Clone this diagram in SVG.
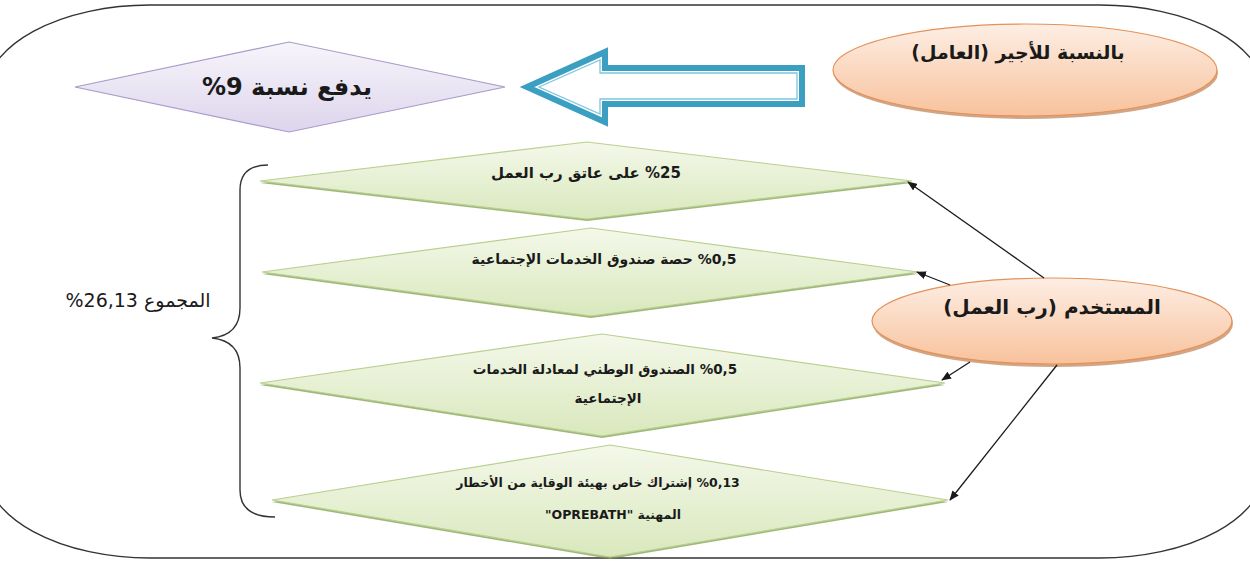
<svg xmlns="http://www.w3.org/2000/svg" width="1250" height="563" viewBox="0 0 1250 563">
<style>
.ar{font-family:"DejaVu Sans","Noto Sans",sans-serif;fill:#1a1a1a;direction:rtl;unicode-bidi:embed}
.bold{font-weight:bold}
.gd{fill:url(#gGreen);stroke:#b9d08f;stroke-width:1.2}
.gs{fill:#7f9f4e;opacity:0.75}
.con{stroke:#1a1a1a;stroke-width:1.3;fill:none;marker-end:url(#ah)}
</style>
<defs>
<linearGradient id="gGreen" x1="0" y1="0" x2="0" y2="1">
<stop offset="0" stop-color="#f4f8ea"/><stop offset="1" stop-color="#d9e8bd"/>
</linearGradient>
<linearGradient id="gPurple" x1="0" y1="0" x2="0" y2="1">
<stop offset="0" stop-color="#f7f5fb"/><stop offset="1" stop-color="#ddd5ec"/>
</linearGradient>
<linearGradient id="gOrange" x1="0" y1="0" x2="0" y2="1">
<stop offset="0" stop-color="#fdeee4"/><stop offset="1" stop-color="#f8c29c"/>
</linearGradient>
<marker id="ah" markerWidth="10" markerHeight="8" refX="9" refY="4" orient="auto" markerUnits="userSpaceOnUse">
<path d="M0,0 L10,4 L0,8 z" fill="#1a1a1a"/>
</marker>
</defs>
<rect width="1250" height="563" fill="#ffffff"/>
<g id="frame">
<rect x="-15" y="5" width="1280" height="553" rx="165" ry="90" fill="none" stroke="#333333" stroke-width="1.4"/>
</g>
<g id="pay9">
<polygon points="75,87 289,42 505,87 289,132" fill="url(#gPurple)" stroke="#a99ac9" stroke-width="1.2"/>
<text class="ar bold" x="287" y="95" font-size="24" text-anchor="middle">يدفع نسبة &#x200E;%9</text>
</g>
<g id="bigArrow">
<polygon points="527,87 605,52 605,68 802,68 802,104 605,104 605,122" fill="#ffffff" stroke="#3b9fc2" stroke-width="6" stroke-linejoin="miter"/>
<polygon points="539,87 600,60 600,73 797,73 797,99 600,99 600,114" fill="none" stroke="#7cc6de" stroke-width="1.3"/>
</g>
<g id="worker">
<ellipse cx="1026" cy="73" rx="192" ry="46" fill="#b36a36" opacity="0.6"/>
<ellipse cx="1025" cy="70" rx="192" ry="46" fill="url(#gOrange)" stroke="#e39158" stroke-width="1.2"/>
<text class="ar bold" x="1018" y="59" font-size="19" text-anchor="middle">بالنسبة للأجير (العامل)</text>
</g>
<g id="employer">
<ellipse cx="1053" cy="324" rx="180" ry="43" fill="#b36a36" opacity="0.6"/>
<ellipse cx="1052" cy="321" rx="180" ry="43" fill="url(#gOrange)" stroke="#e39158" stroke-width="1.2"/>
<text class="ar bold" x="1052" y="314" font-size="20" text-anchor="middle">المستخدم (رب العمل)</text>
</g>
<g id="d1">
<polygon class="gs" points="260,183 587,144 912,183 587,221"/>
<polygon class="gd" points="260,181 587,142 912,181 587,219"/>
<text class="ar bold" x="586" y="178" font-size="15" text-anchor="middle">&#x200E;%25 على عاتق رب العمل</text>
</g>
<g id="d2">
<polygon class="gs" points="262,274 591,230 918,274 591,318"/>
<polygon class="gd" points="262,272 591,228 918,272 591,316"/>
<text class="ar bold" x="604" y="264" font-size="14" text-anchor="middle">&#x200E;%0,5 حصة صندوق الخدمات الإجتماعية</text>
</g>
<g id="d3">
<polygon class="gs" points="260,385 602,336 945,385 602,438"/>
<polygon class="gd" points="260,383 602,334 945,383 602,436"/>
<text class="ar bold" x="605" y="374" font-size="13.5" text-anchor="middle">&#x200E;%0,5 الصندوق الوطني لمعادلة الخدمات</text>
<text class="ar bold" x="608" y="403" font-size="13.5" text-anchor="middle">الإجتماعية</text>
</g>
<g id="d4">
<polygon class="gs" points="272,502 610,447 948,502 610,559"/>
<polygon class="gd" points="272,500 610,445 948,500 610,557"/>
<text class="ar bold" x="598" y="487" font-size="12.5" text-anchor="middle">&#x200E;%0,13 إشتراك خاص بهيئة الوقاية من الأخطار</text>
<text class="ar bold" x="613" y="519" font-size="12.5" text-anchor="middle">المهنية "OPREBATH"</text>
</g>
<g id="total">
<path d="M268,165 Q240,165 240,190 L240,308 Q240,335 212,338 Q240,341 240,368 L240,490 Q240,517 275,517" fill="none" stroke="#333333" stroke-width="1.4"/>
<text class="ar" x="138" y="307" font-size="19" text-anchor="middle">المجموع &#x200E;%26,13</text>
</g>
<g id="connectors">
<line class="con" x1="1044" y1="278" x2="908" y2="182"/>
<line class="con" x1="950" y1="285" x2="917" y2="272"/>
<line class="con" x1="970" y1="362" x2="942" y2="380"/>
<line class="con" x1="1057" y1="365" x2="950" y2="500"/>
</g>
</svg>
